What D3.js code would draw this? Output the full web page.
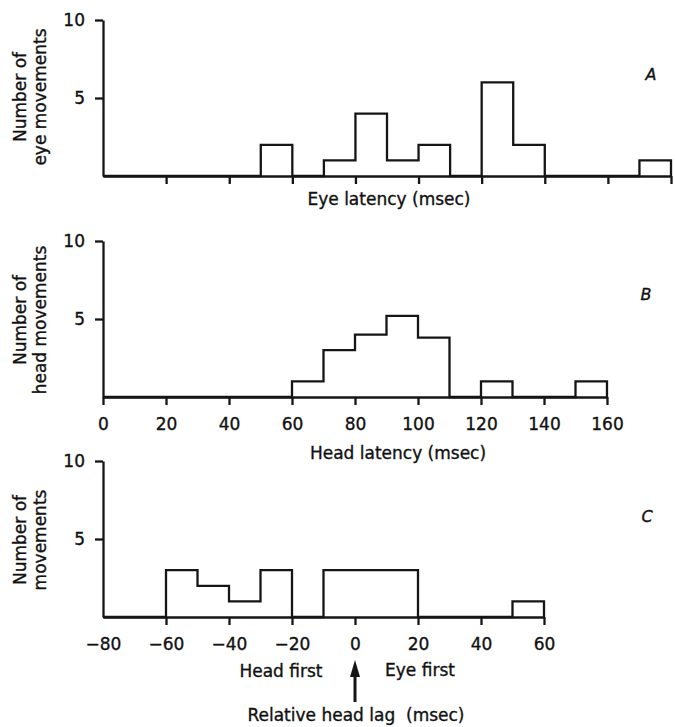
<!DOCTYPE html>
<html>
<head>
<meta charset="utf-8">
<script src="https://d3js.org/d3.v7.min.js"></script>
<style>
  body { margin: 0; background: #fff; }
  svg text { font-family: "DejaVu Sans", sans-serif; fill: #111; stroke: #111; stroke-width: 0.35px; }
</style>
</head>
<body>
<div id="chart"></div>
<script>
// bin starts (msec, 10 msec wide) and counts
const eyeBins    = [0, 10, 20, 30, 40, 50, 60, 70, 80, 90, 100, 110, 120, 130, 140, 150, 160, 170];
const eyeCounts  = [0, 0, 0, 0, 0, 2, 0, 1, 4, 1, 2, 0, 6, 2, 0, 0, 0, 1];

const headBins   = [0, 10, 20, 30, 40, 50, 60, 70, 80, 90, 100, 110, 120, 130, 140, 150];
const headCounts = [0, 0, 0, 0, 0, 0, 1, 3, 4, 5.2, 3.8, 0, 1, 0, 0, 1];

const lagBins    = [-80, -70, -60, -50, -40, -30, -20, -10, 0, 10, 20, 30, 40, 50];
const lagCounts  = [0, 0, 3, 2, 1, 3, 0, 3, 3, 3, 0, 0, 0, 1];

const eyeTicks  = [20, 40, 60, 80, 100, 120, 140, 160, 180];
const headTicks = [0, 20, 40, 60, 80, 100, 120, 140, 160];
const lagTicks  = [-80, -60, -40, -20, 0, 20, 40, 60];
const yTicks    = [5, 10];

const W = 675, H = 727;
const ink = "#151515";
const lw = 2.3;

const svg = d3.select("#chart").append("svg")
  .attr("width", W).attr("height", H);

// one panel = histogram outline + axes
function panel(opt) {
  const x = d3.scaleLinear().domain(opt.xDomain).range([103, opt.xRight]);
  const y = d3.scaleLinear().domain([0, 10]).range([opt.y0, opt.y0 - 156]);
  const g = svg.append("g");

  // x axis
  const xa = g.append("g")
    .attr("transform", `translate(0,${opt.y0})`)
    .call(d3.axisBottom(x).tickValues(opt.ticks).tickSize(8).tickSizeOuter(0)
      .tickPadding(13).tickFormat(opt.labels ? d3.format("") : ""));
  xa.select(".domain").attr("stroke", ink).attr("stroke-width", lw);
  xa.selectAll(".tick line").attr("stroke", ink).attr("stroke-width", lw);
  xa.selectAll(".tick text").attr("font-size", 17).attr("font-family", "DejaVu Sans");
  if (opt.noFirstTick) xa.select(".tick line").remove();

  // y axis
  const ya = g.append("g")
    .attr("transform", "translate(103,0)")
    .call(d3.axisLeft(y).tickValues(yTicks).tickSize(8).tickSizeOuter(0).tickPadding(10));
  ya.select(".domain").attr("stroke", ink).attr("stroke-width", lw);
  ya.selectAll(".tick line").attr("stroke", ink).attr("stroke-width", lw);
  ya.selectAll(".tick text").attr("font-size", 17).attr("font-family", "DejaVu Sans");

  // histogram outline as a step line
  const pts = opt.bins.map((b, i) => [b, opt.counts[i]]);
  pts.push([opt.bins[opt.bins.length - 1] + 10, 0]);
  const line = d3.line().x(d => x(d[0])).y(d => y(d[1])).curve(d3.curveStepAfter);
  g.append("path")
    .attr("d", line(pts))
    .attr("fill", "none")
    .attr("stroke", ink)
    .attr("stroke-width", lw)
    .attr("stroke-linejoin", "miter");

  // y label (two lines, rotated)
  const yl = g.append("text")
    .attr("transform", `translate(0,${opt.labelY}) rotate(-90)`)
    .attr("text-anchor", "middle")
    .attr("font-size", 17);
  yl.append("tspan").attr("x", 0).attr("y", 26).text(opt.yLabel[0]);
  yl.append("tspan").attr("x", 0).attr("y", 46).text(opt.yLabel[1]);

  // panel letter
  g.append("text")
    .attr("x", opt.letterPos[0]).attr("y", opt.letterPos[1])
    .attr("text-anchor", "middle")
    .attr("font-size", 16)
    .attr("font-style", "italic")
    .text(opt.letter);

  return x;
}

panel({
  xDomain: [0, 180], xRight: 671, y0: 176, bins: eyeBins, counts: eyeCounts,
  ticks: eyeTicks, labels: false, yLabel: ["Number of", "eye movements"], labelY: 97,
  letter: "A", letterPos: [651, 80]
});
svg.append("text").attr("x", 389).attr("y", 205).attr("text-anchor", "middle")
  .attr("font-size", 17).text("Eye latency (msec)");

panel({
  xDomain: [0, 160], xRight: 607, y0: 397, bins: headBins, counts: headCounts,
  ticks: headTicks, labels: true, yLabel: ["Number of", "head movements"], labelY: 320,
  letter: "B", letterPos: [646, 300]
});
svg.append("text").attr("x", 398).attr("y", 459).attr("text-anchor", "middle")
  .attr("font-size", 17).text("Head latency (msec)");

const xc = panel({
  xDomain: [-80, 60], xRight: 544, y0: 617, bins: lagBins, counts: lagCounts,
  ticks: lagTicks, labels: true, noFirstTick: true, yLabel: ["Number of", "movements"], labelY: 540,
  letter: "C", letterPos: [647, 522]
});

svg.append("text").attr("x", 281).attr("y", 677).attr("text-anchor", "middle")
  .attr("font-size", 17).text("Head first");
svg.append("text").attr("x", 420).attr("y", 676).attr("text-anchor", "middle")
  .attr("font-size", 17).text("Eye first");
svg.append("text").attr("x", 356).attr("y", 721).attr("text-anchor", "middle")
  .attr("font-size", 17).style("white-space", "pre").text("Relative head lag  (msec)");

// arrow at zero lag
const ax = xc(0);
svg.append("line").attr("x1", ax).attr("x2", ax).attr("y1", 675).attr("y2", 702)
  .attr("stroke", ink).attr("stroke-width", 3);
svg.append("path")
  .attr("d", `M${ax - 5},677 L${ax + 5},677 L${ax},660 Z`)
  .attr("fill", ink);
</script>
</body>
</html>
